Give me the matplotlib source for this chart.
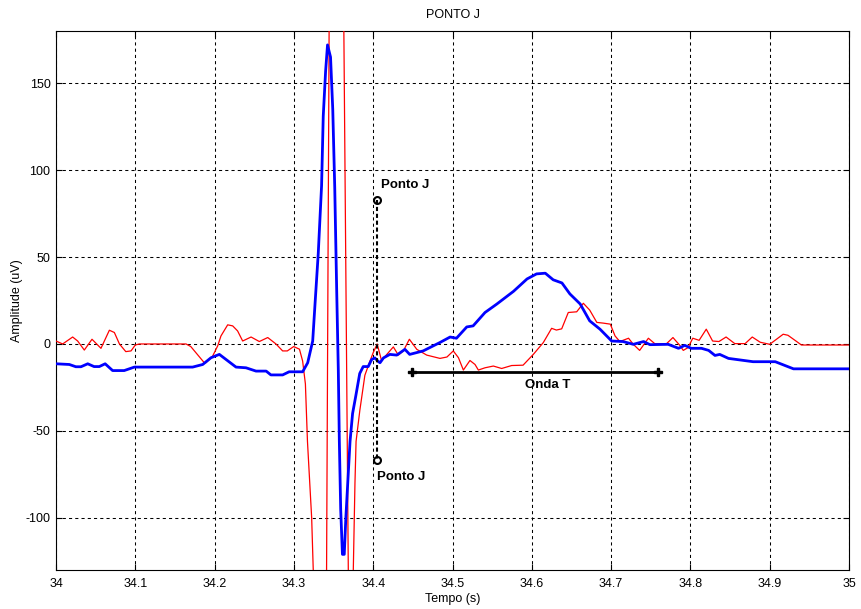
import matplotlib
matplotlib.use("Agg")
import matplotlib.pyplot as plt

plt.rcParams['font.family'] = ['Liberation Sans', 'DejaVu Sans']
plt.rcParams['axes.unicode_minus'] = False

# Blue (thick) signal
blue_t = [34.000, 34.0168, 34.025, 34.0315, 34.040, 34.048, 34.0546, 34.062, 34.0714, 34.086,
          34.0988, 34.1723, 34.185, 34.1955, 34.206, 34.227, 34.2396, 34.2522, 34.265, 34.271,
          34.2858, 34.294, 34.311, 34.3174, 34.3237, 34.3265, 34.3307, 34.3349, 34.337, 34.340,
          34.3424, 34.3462, 34.349, 34.3515, 34.354, 34.356, 34.3573, 34.359, 34.3612, 34.3635,
          34.3655, 34.3685, 34.3708, 34.374, 34.378, 34.383, 34.3874, 34.3937, 34.398, 34.402,
          34.4063, 34.4086, 34.413, 34.421, 34.4297, 34.440, 34.446, 34.463, 34.484, 34.497,
          34.505, 34.518, 34.526, 34.541, 34.556, 34.577, 34.594, 34.606, 34.617, 34.627,
          34.638, 34.648, 34.661, 34.673, 34.686, 34.7007, 34.715, 34.728, 34.741, 34.749,
          34.772, 34.785, 34.793, 34.801, 34.814, 34.823, 34.831, 34.837, 34.848, 34.879,
          34.907, 34.921, 34.930, 35.000]
blue_v = [-11.4, -11.8, -13.1, -13.1, -11.4, -13.0, -13.0, -11.4, -15.3, -15.3,
          -13.3, -13.3, -11.8, -7.9, -6.0, -13.3, -13.7, -15.6, -15.6, -17.8,
          -17.8, -16.0, -16.0, -10.8, 1.7, 22, 52, 91, 131, 157,
          172, 165, 135, 90, 30, -15, -56, -95, -121, -121,
          -100, -75, -56, -40, -30, -17, -13, -13, -9, -8,
          -10, -10.8, -8, -6, -6.4, -3.1, -6, -4, 0.8, 4,
          3.3, 9.8, 10.4, 18.1, 23, 30.3, 37.4, 40.3, 40.7, 36.9,
          35.1, 28.8, 23, 13.3, 8.5, 1.7, 1.4, -0.2, 1.4, -0.4,
          -0.2, -2.5, -0.8, -2.5, -2.5, -3.7, -6.6, -6, -8.3, -10.2,
          -10.2, -12.7, -14.3, -14.3]

# Red (thin) signal
red_t = [34.000, 34.0084, 34.021, 34.0273, 34.0357, 34.0454, 34.0567, 34.0673, 34.0736, 34.080,
         34.088, 34.0946, 34.100, 34.105, 34.164, 34.170, 34.187, 34.189, 34.1975, 34.204,
         34.208, 34.2165, 34.2228, 34.229, 34.2354, 34.246, 34.2564, 34.267, 34.2774, 34.2858,
         34.2917, 34.2997, 34.307, 34.311, 34.3145, 34.3171, 34.3224, 34.3244, 34.328, 34.333,
         34.338, 34.3412, 34.3444, 34.348, 34.353, 34.358, 34.363, 34.3686, 34.3715, 34.3749,
         34.377, 34.3784, 34.3832, 34.3895, 34.3958, 34.400, 34.405, 34.4105, 34.4254, 34.4317,
         34.438, 34.4456, 34.455, 34.4675, 34.4842, 34.493, 34.501, 34.5075, 34.5137, 34.522,
         34.5284, 34.5326, 34.541, 34.5515, 34.562, 34.5746, 34.589, 34.6019, 34.6145, 34.625,
         34.631, 34.6377, 34.646, 34.6566, 34.665, 34.673, 34.682, 34.690, 34.699, 34.705,
         34.711, 34.722, 34.728, 34.736, 34.747, 34.755, 34.770, 34.778, 34.787, 34.791,
         34.797, 34.803, 34.811, 34.820, 34.828, 34.836, 34.845, 34.856, 34.869, 34.878,
         34.888, 34.900, 34.917, 34.923, 34.934, 34.940, 35.000]
red_v = [1.7, 0, 4, 1.7, -3.5, 2.7, -2.5, 7.9, 6.6, 0,
         -4.4, -4, -0.6, 0, 0, -1.5, -10.8, -10.8, -7, -1,
         4.6, 11, 10.4, 7.5, 1.7, 4, 1.4, 3.7, 0, -4,
         -4, -1.5, -3, -9.8, -23, -56, -100, -130, -175, -195,
         -170, -130, 180, 260, 290, 260, 180, -130, -150, -130,
         -80, -56, -38, -18, -10, -5, 0, -9.5, -1.7, -6.4,
         -4, 2.7, -3.1, -6.4, -8.3, -7.5, -4, -7.9, -15, -9.5,
         -11.8, -15, -13.7, -12.7, -14.1, -12.4, -12.2, -6, 0.8, 9,
         8, 8.7, 18.1, 18.5, 23.4, 19.5, 12.4, 12, 11.4, 4.6,
         1.4, 3.3, -0.2, -3.7, 3.3, 0.2, 0.2, 3.7, -1, -3.7,
         -2.1, 3.3, 2.1, 8.5, 1.7, 1.4, 4, 0.2, 0.2, 4,
         1, -0.2, 5.6, 5, 1.4, -0.6, -0.6]

# Annotations
j_x = 34.405
j_top = 82.7
j_bottom = -67.0
j_label = "Ponto J"
t_start, t_end, t_level = 34.449, 34.7595, -16.2
t_label = "Onda T"

x_ticks = [34.0, 34.1, 34.2, 34.3, 34.4, 34.5, 34.6, 34.7, 34.8, 34.9, 35.0]
x_ticklabels = ["34", "34.1", "34.2", "34.3", "34.4", "34.5", "34.6", "34.7", "34.8", "34.9", "35"]
y_ticks = [-100, -50, 0, 50, 100, 150]

fig = plt.figure(figsize=(8.61, 6.09), dpi=100)
ax = fig.add_axes([56/861, 1-570/609, (849-56)/861, (570-31)/609])

ax.plot(red_t, red_v, color='#ff0000', lw=0.9, zorder=3)
ax.plot(blue_t, blue_v, color='#0000ff', lw=2.0, zorder=4)

# Ponto J marker line
ax.plot([j_x, j_x], [j_top, j_bottom], color='black', lw=1.5, ls=(0, (2.0, 1.3)),
        marker='o', markersize=5, markerfacecolor='none', markeredgewidth=1.5, zorder=5)
ax.text(j_x + 0.005, 91.5, j_label, fontsize=9.5, fontweight='bold', ha='left', va='center', zorder=6)
ax.text(j_x + 0.0, -76.5, j_label, fontsize=9.5, fontweight='bold', ha='left', va='center', zorder=6)

# Onda T line
ax.plot([t_start, t_end], [t_level, t_level], color='black', lw=2.0,
        marker='P', markersize=6, zorder=5)
ax.text(34.6196, -23.4, t_label, fontsize=9.5, fontweight='bold', ha='center', va='center', zorder=6)

ax.set_xlim(34, 35)
ax.set_ylim(-130, 180)
ax.set_xticks(x_ticks)
ax.set_xticklabels(x_ticklabels)
ax.set_yticks(y_ticks)
ax.tick_params(direction='in', length=4, width=0.8, labelsize=9, top=True, right=True)
ax.tick_params(axis='x', pad=6)
ax.tick_params(axis='y', pad=4)
ax.grid(True, color='black', lw=0.75, ls=(0, (3, 3)))
for s in ax.spines.values():
    s.set_linewidth(0.8)

ax.set_title("PONTO J", fontsize=9, pad=9)
ax.set_xlabel("Tempo (s)", fontsize=9, labelpad=2)
ax.set_ylabel("Amplitude (uV)", fontsize=9, labelpad=2)

fig.savefig("out.png", dpi=100)
